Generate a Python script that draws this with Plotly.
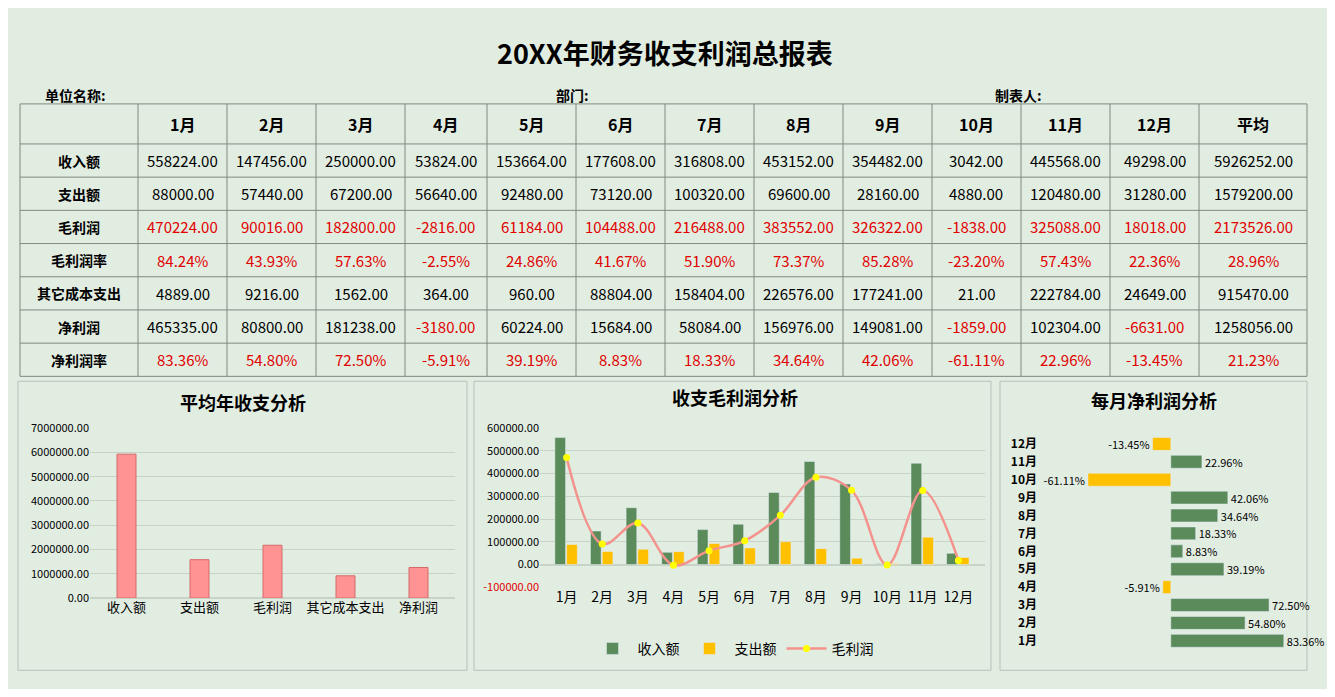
import plotly.graph_objects as go

W, H = 1319, 681
OFF = 8
BG = "#E2EDE2"
FONT = "Noto Sans CJK SC"

months = ["1月","2月","3月","4月","5月","6月","7月","8月","9月","10月","11月","12月"]
row_names = ["收入额","支出额","毛利润","毛利润率","其它成本支出","净利润","净利润率"]
income = [558224,147456,250000,53824,153664,177608,316808,453152,354482,3042,445568,49298]
expense = [88000,57440,67200,56640,92480,73120,100320,69600,28160,4880,120480,31280]
gross = [470224,90016,182800,-2816,61184,104488,216488,383552,326322,-1838,325088,18018]
gross_rate = [84.24,43.93,57.63,-2.55,24.86,41.67,51.90,73.37,85.28,-23.20,57.43,22.36]
other_cost = [4889,9216,1562,364,960,88804,158404,226576,177241,21,222784,24649]
net = [465335,80800,181238,-3180,60224,15684,58084,156976,149081,-1859,102304,-6631]
net_rate = [83.36,54.80,72.50,-5.91,39.19,8.83,18.33,34.64,42.06,-61.11,22.96,-13.45]
avg_vals = [5926252,1579200,2173526,28.96,915470,1258056,21.23]
avg_labels = ["收入额","支出额","毛利润","其它成本支出","净利润"]
avg_bar = [5926252,1579200,2173526,915470,1258056]

def px(x): return (x - OFF) / W
def py(y): return 1 - (y - OFF) / H

fig = go.Figure()
shapes, ann = [], []

def text(t, x, y, size, color="#000"):
    ann.append(dict(text=t, x=px(x), y=py(y), xref="paper", yref="paper", showarrow=False,
                    xanchor="center", yanchor="middle",
                    font=dict(family=FONT, size=size, color=color)))

# ---- table (drawn with lines + texts) ----
col_edges = [20, 138, 227, 316, 405, 487, 576, 665, 754, 843, 932, 1021, 1110, 1199, 1307]
row_edges = [97, 138, 172, 206, 240, 274, 308, 342, 376]
LC = "#7f8a7f"
for x in col_edges:
    shapes.append(dict(type="line", xref="paper", yref="paper", x0=px(x), x1=px(x),
                       y0=py(row_edges[0]), y1=py(row_edges[-1]), line=dict(color=LC, width=1)))
for y in row_edges:
    shapes.append(dict(type="line", xref="paper", yref="paper", x0=px(col_edges[0]), x1=px(col_edges[-1]),
                       y0=py(y), y1=py(y), line=dict(color=LC, width=1)))

def cx(i): return (col_edges[i] + col_edges[i + 1]) / 2
def cy(j): return (row_edges[j] + row_edges[j + 1]) / 2

header = months + ["平均"]
for i, h in enumerate(header):
    text(f"<b>{h}</b>", cx(i + 1), cy(0), 16)
rows = [income, expense, gross, gross_rate, other_cost, net, net_rate]
is_pct = [False, False, False, True, False, False, True]
red_rows = [False, False, True, True, False, False, True]
for j, r in enumerate(rows):
    text(f"<b>{row_names[j]}</b>", cx(0), cy(j + 1), 14)
    for m in range(13):
        v = avg_vals[j] if m == 12 else r[m]
        s = f"{v:.2f}%" if is_pct[j] else f"{v:.2f}"
        text(s, cx(m + 1), cy(j + 1), 15, "#E00000" if (red_rows[j] or v < 0) else "#000")

# ---- chart 1 ----
fig.add_trace(go.Bar(x=avg_labels, y=avg_bar, marker_color="#FF9393",
                     marker_line=dict(color="#D46A6A", width=1), width=0.26,
                     xaxis="x", yaxis="y", showlegend=False))

# ---- chart 2 ----
fig.add_trace(go.Bar(x=months, y=income, name="收入额", marker_color="#5B8A5B",
                     xaxis="x2", yaxis="y2", width=0.3, offset=-0.33))
fig.add_trace(go.Bar(x=months, y=expense, name="支出额", marker_color="#FFC000",
                     xaxis="x2", yaxis="y2", width=0.3, offset=0.0))
fig.add_trace(go.Scatter(x=months, y=gross, name="毛利润", mode="lines+markers",
                         line=dict(color="#F4938D", width=2.5, shape="spline"),
                         marker=dict(color="#FFFF00", size=7),
                         xaxis="x2", yaxis="y2"))

# ---- chart 3 ----
fig.add_trace(go.Bar(y=months, x=net_rate, orientation="h",
                     marker_color=["#5B8A5B" if v >= 0 else "#FFC000" for v in net_rate],
                     text=[f"{v:.2f}%" for v in net_rate], textposition="outside",
                     constraintext="none",
                     textfont=dict(family=FONT, size=11, color="#000"),
                     cliponaxis=False, width=0.72,
                     xaxis="x3", yaxis="y3", showlegend=False))

axfont = dict(family=FONT, size=11, color="#000")
fig.update_layout(
    width=W, height=H, margin=dict(l=0, r=0, t=0, b=0),
    paper_bgcolor=BG, plot_bgcolor=BG, font=dict(family=FONT),
    barmode="overlay",
    xaxis=dict(domain=[px(90), px(455)], anchor="y", tickfont=dict(family=FONT, size=13, color="#000"),
               ticks=""),
    yaxis=dict(domain=[py(603), py(429)], anchor="x", range=[0, 7000000], dtick=1000000,
               tickformat=".2f", tickfont=axfont, gridcolor="#C8D3C8", zeroline=True,
               zerolinecolor="#C8D3C8"),
    xaxis2=dict(domain=[px(540), px(985)], anchor="y2", tickfont=dict(family=FONT, size=14, color="#000"),
                ticks=""),
    yaxis2=dict(domain=[py(592), py(429)], anchor="x2", range=[-100000, 600000],
                tickvals=[-100000, 0, 100000, 200000, 300000, 400000, 500000, 600000],
                ticktext=["<span style='color:#E00000'>-100000.00</span>", "0.00", "100000.00",
                          "200000.00", "300000.00", "400000.00", "500000.00", "600000.00"],
                tickfont=axfont, gridcolor="#C8D3C8", zerolinecolor="#C8D3C8"),
    xaxis3=dict(domain=[px(1038), px(1305)], anchor="y3", range=[-98, 99], visible=False),
    yaxis3=dict(domain=[py(656), py(436)], anchor="x3", tickfont=dict(family=FONT, size=12, color="#000"),
                ticks="", showgrid=False, tickprefix="<b>", ticksuffix="</b>"),
    legend=dict(orientation="h", x=px(733), xanchor="center", y=py(655), yanchor="middle",
                font=dict(family=FONT, size=14, color="#000"), bgcolor="rgba(0,0,0,0)",
                itemwidth=40),
)

for x0, x1 in [(18, 467), (474, 991), (1000, 1307)]:
    shapes.append(dict(type="rect", xref="paper", yref="paper", x0=px(x0), x1=px(x1),
                       y0=py(677), y1=py(381), line=dict(color="#B8C2B8", width=1),
                       fillcolor="rgba(0,0,0,0)", layer="below"))

text("<b>20XX年财务收支利润总报表</b>", 665, 44, 27)
text("<b>单位名称:</b>", 75, 88, 14)
text("<b>部门:</b>", 572, 88, 14)
text("<b>制表人:</b>", 1018, 88, 14)
text("<b>平均年收支分析</b>", 243, 402, 18)
text("<b>收支毛利润分析</b>", 735, 397, 18)
text("<b>每月净利润分析</b>", 1154, 400, 18)

fig.update_layout(shapes=shapes, annotations=ann)
fig.write_html("out.html")
